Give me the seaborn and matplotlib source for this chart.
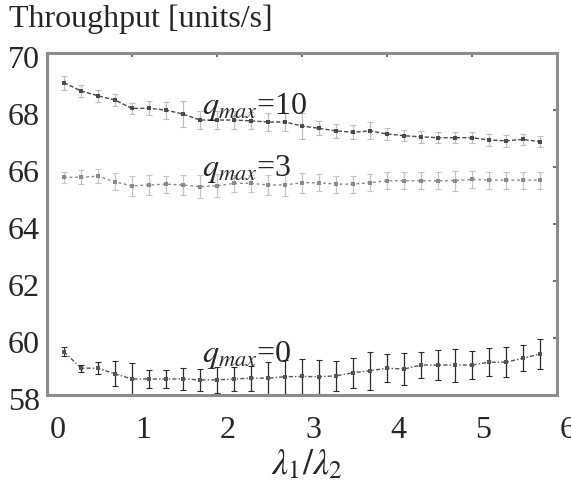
import numpy as np
import pandas as pd
import matplotlib
matplotlib.use("Agg")
import matplotlib.pyplot as plt
import matplotlib.transforms as mtransforms
import seaborn as sns

# lambda1/lambda2 ratio
ratio = [0.2, 0.4, 0.6, 0.8, 1.0, 1.2, 1.4, 1.6, 1.8, 2.0,
         2.2, 2.4, 2.6, 2.8, 3.0, 3.2, 3.4, 3.6, 3.8, 4.0,
         4.2, 4.4, 4.6, 4.8, 5.0, 5.2, 5.4, 5.6, 5.8]

thr_q10 = [68.96, 68.67, 68.50, 68.35, 68.06, 68.06, 68.00, 67.86, 67.65, 67.65,
           67.65, 67.62, 67.58, 67.58, 67.44, 67.36, 67.27, 67.22, 67.27, 67.16,
           67.10, 67.06, 67.03, 67.03, 67.03, 66.95, 66.92, 66.97, 66.89]
err_q10 = [0.25, 0.2, 0.2, 0.2, 0.2, 0.25, 0.3, 0.45, 0.3, 0.3,
           0.3, 0.3, 0.3, 0.3, 0.45, 0.25, 0.25, 0.25, 0.3, 0.2,
           0.2, 0.2, 0.2, 0.2, 0.2, 0.2, 0.2, 0.2, 0.2]

thr_q3 = [65.64, 65.64, 65.68, 65.48, 65.34, 65.37, 65.40, 65.37, 65.31, 65.34,
          65.43, 65.43, 65.37, 65.37, 65.45, 65.45, 65.40, 65.40, 65.45, 65.52,
          65.52, 65.52, 65.52, 65.52, 65.57, 65.54, 65.54, 65.54, 65.54]
err_q3 = [0.2, 0.25, 0.25, 0.3, 0.35, 0.35, 0.3, 0.35, 0.4, 0.4,
          0.3, 0.3, 0.35, 0.4, 0.35, 0.3, 0.3, 0.3, 0.3, 0.3,
          0.3, 0.3, 0.3, 0.35, 0.3, 0.3, 0.3, 0.3, 0.3]

thr_q0 = [59.52, 58.94, 58.94, 58.74, 58.56, 58.56, 58.56, 58.56, 58.53, 58.53,
          58.56, 58.59, 58.59, 58.64, 58.65, 58.64, 58.67, 58.78, 58.85, 58.94,
          58.91, 59.05, 59.05, 59.05, 59.05, 59.15, 59.15, 59.29, 59.44]
err_q0 = [0.15, 0.12, 0.2, 0.44, 0.55, 0.32, 0.32, 0.37, 0.38, 0.45,
          0.41, 0.44, 0.58, 0.6, 0.6, 0.6, 0.53, 0.53, 0.67, 0.5,
          0.56, 0.47, 0.53, 0.58, 0.49, 0.49, 0.53, 0.45, 0.53]

sns.set_style("white")
plt.rcParams["font.family"] = ["Liberation Serif", "DejaVu Serif"]
plt.rcParams["mathtext.fontset"] = "stix"

fig = plt.figure(figsize=(5.71, 4.87), dpi=100)
ax = fig.add_axes([0.0823, 0.189, 0.8932, 0.702])

series = [
    (thr_q10, err_q10, "#4a4a4a", "#bdbdbd", (0, (3, 1.5))),
    (thr_q3, err_q3, "#8a8a8a", "#c4c4c4", (0, (2, 2))),
    (thr_q0, err_q0, "#555555", "#2a2a2a", (0, (3, 1.5, 1, 1.5))),
]
for vals, errs, col, ecol, ls in series:
    df = pd.DataFrame({"ratio": ratio, "thr": vals})
    ax.errorbar(df["ratio"], df["thr"], yerr=errs, fmt="none",
                ecolor=ecol, elinewidth=0.9, capsize=2, capthick=0.8, zorder=2)
    sns.lineplot(data=df, x="ratio", y="thr", ax=ax, color=col,
                 linewidth=1.0, linestyle=ls, marker="s", markersize=3.5,
                 markeredgewidth=0, zorder=3)

ax.set_xlim(0, 6)
ax.set_ylim(58, 70)
ax.set_xticks([0, 1, 2, 3, 4, 5, 6])
ax.set_yticks([58, 60, 62, 64, 66, 68, 70])
ax.set_xlabel(r"$\lambda_1/\lambda_2$", fontsize=26, labelpad=4)
ax.xaxis.set_label_coords(0.51, -0.155)
ax.set_ylabel("")
ax.tick_params(direction="in", length=3, width=1.2, color="#555555",
               top=True, right=True, labelsize=23, pad=5)
ax.tick_params(axis="x", pad=15)
for s in ax.spines.values():
    s.set_color("#8c8c8c")
    s.set_linewidth(2.2)

# shift tick labels like the original
dx = mtransforms.ScaledTranslation(11 / 100, 0, fig.dpi_scale_trans)
for lab in ax.get_xticklabels():
    lab.set_transform(lab.get_transform() + dx)
dy = mtransforms.ScaledTranslation(0, -4 / 100, fig.dpi_scale_trans)
for lab in ax.get_yticklabels():
    lab.set_transform(lab.get_transform() + dy)

lbl = dict(fontsize=23, va="baseline", ha="left")
ax.text(1.82, 67.86, r"$q_{max}$=10", **lbl)
ax.text(1.82, 65.68, r"$q_{max}$=3", **lbl)
ax.text(1.82, 59.17, r"$q_{max}$=0", **lbl)

fig.text(0.016, 0.99, "Throughput [units/s]", fontsize=23, va="top", ha="left")

fig.savefig("out.png", dpi=100)
